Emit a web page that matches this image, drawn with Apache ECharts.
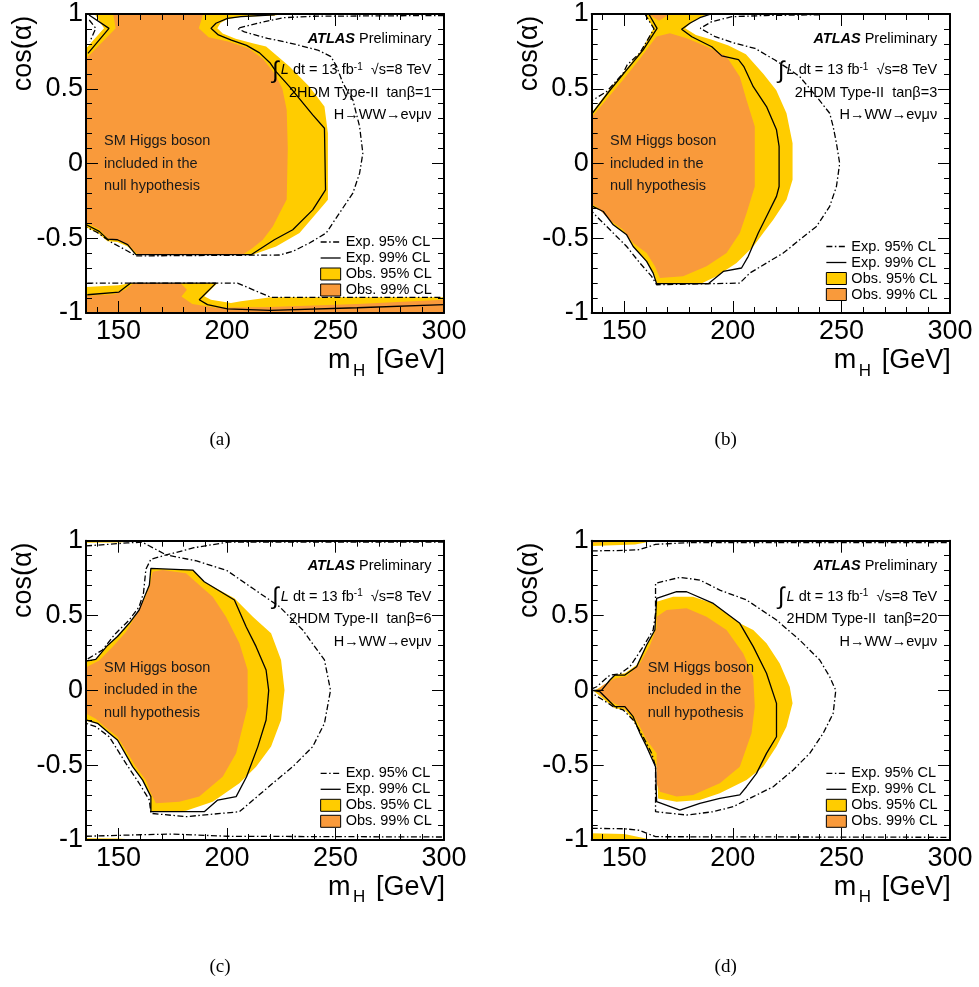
<!DOCTYPE html>
<html>
<head>
<meta charset="utf-8">
<script src="https://cdn.jsdelivr.net/npm/echarts@6/dist/echarts.min.js"></script>
<style>
  html, body { margin: 0; padding: 0; background: #fff; }
  #chart { width: 979px; height: 987px; }
</style>
</head>
<body>
<div id="chart"></div>
<script>
// tick labels
var X_MAJOR = [150, 200, 250, 300];
var X_MINOR = [140, 150, 160, 170, 180, 190, 200, 210, 220, 230, 240, 250, 260, 270, 280, 290, 300];
var TANB = ['1', '3', '6', '20'];
var CAPTIONS = ['(a)', '(b)', '(c)', '(d)'];

// ---- panel (a): tanb = 1 ----
var OBS95_A = [
  [[135,0.77],[143.3,0.904],[139,1],[226,1],[222,0.99],[206,0.98],[200,0.965],[197,0.94],[195.5,0.904],[198,0.87],[204,0.835],[211.8,0.804],[218,0.782],[223,0.72],[228.8,0.648],[238,0.514],[244.9,0.381],[246.5,0.203],[246.5,-0.243],[242.6,-0.31],[233.4,-0.465],[222.6,-0.555],[211.8,-0.61],[158,-0.61],[154.2,-0.555],[149.5,-0.525],[144.9,-0.52],[141,-0.47],[135,-0.425]],
  [[135,-0.826],[150,-0.815],[156,-0.80],[195.6,-0.80],[189.5,-0.888],[192.6,-0.911],[201.8,-0.933],[206.4,-0.922],[220.2,-0.895],[300,-0.895],[300,-1],[135,-1]]
];
var OBS99_A = [
  [[135,0.70],[148.7,0.904],[147.5,1],[189,1],[187,0.904],[191.5,0.845],[201,0.815],[210,0.77],[216.5,0.70],[222,0.60],[225.5,0.50],[227.5,0.36],[228,0.1],[227.5,-0.24],[224.2,-0.332],[221.1,-0.421],[216.5,-0.51],[211.8,-0.566],[207.2,-0.61],[159,-0.61],[155,-0.55],[150,-0.515],[145,-0.50],[141,-0.44],[135,-0.395]],
  [[135,-0.885],[148,-0.875],[153,-0.845],[157,-0.80],[178.5,-0.80],[181.5,-0.845],[179,-0.89],[184,-0.94],[195,-0.965],[220,-0.96],[260,-0.94],[300,-0.912],[300,-1],[135,-1]]
];
var EXP99_A = [
  [[136.4,0.993],[145.6,0.904],[135.9,0.737]],
  [[222,0.995],[206.4,0.982],[200.2,0.971],[194.9,0.938],[192.6,0.904],[196,0.86],[202,0.825],[209,0.79],[215,0.74],[220,0.67],[222.6,0.615],[228.8,0.514],[239.5,0.325],[244.9,0.236],[245.4,-0.176],[239.5,-0.31],[230.3,-0.443],[221.8,-0.51],[211.1,-0.61],[158,-0.61],[154.2,-0.543],[149.5,-0.51],[144.9,-0.506],[141.1,-0.454],[135.2,-0.41]],
  [[135.6,-0.878],[150.2,-0.86],[155.6,-0.80],[194.9,-0.80],[187.2,-0.911],[191,-0.944],[200.2,-0.973],[220,-0.982],[260,-0.965],[300,-0.944]]
];
var EXP95_A = [
  [[136.5,0.96],[139.5,0.904],[136.8,0.815]],
  [[300,0.99],[240,0.985],[226,0.975],[214,0.938],[204.8,0.904],[208,0.88],[218.7,0.837],[229.5,0.804],[241.8,0.759],[247.9,0.715],[250.5,0.65],[253.4,0.537],[258,0.425],[261.1,0.247],[262.6,0.069],[261.1,-0.065],[258,-0.198],[251.8,-0.332],[245.7,-0.465],[238,-0.532],[230.3,-0.588],[224.2,-0.612],[158,-0.618],[153.5,-0.58],[147,-0.53],[140,-0.46],[135,-0.425]],
  [[135.6,-0.80],[204.8,-0.80],[220.2,-0.895],[300,-0.895]]
];

// ---- panel (b): tanb = 3 ----
var OBS95_B = [
  [[159.5,1],[190,1],[186,0.985],[181.5,0.95],[178,0.904],[183,0.86],[190,0.83],[198,0.79],[206,0.73],[214,0.6],[220,0.49],[224.7,0.336],[227.5,0.136],[227.5,-0.109],[224.7,-0.243],[218.6,-0.376],[214,-0.465],[209.4,-0.555],[201.7,-0.666],[192.5,-0.755],[186,-0.80],[164.9,-0.80],[163.3,-0.73],[160.3,-0.655],[154.1,-0.555],[151.1,-0.477],[144.9,-0.41],[140.3,-0.321],[135,-0.29],[135,0.34],[142.8,0.49],[150.5,0.626],[158,0.76],[163.5,0.904]]
];
var OBS99_B = [
  [[164.9,0.849],[171,0.871],[178.7,0.837],[187.9,0.782],[197.1,0.715],[203.2,0.581],[206.3,0.425],[210.1,0.247],[210.1,-0.154],[206.3,-0.332],[203.2,-0.465],[197.1,-0.599],[187.9,-0.688],[177.1,-0.755],[166.4,-0.766],[164.1,-0.688],[160.3,-0.599],[154.1,-0.532],[149.5,-0.443],[143.4,-0.38],[137.3,-0.29],[135,-0.27],[135,0.31],[141.9,0.43],[149.5,0.56],[157.2,0.70],[163.3,0.82]],
  [[161,1],[171,1],[166,0.955]]
];
var EXP99_B = [
  [[161.3,1],[165.1,0.904],[158.7,0.76],[151.1,0.626],[143.4,0.49],[135,0.33]],
  [[190,1],[187.3,0.987],[184.8,0.975],[180.2,0.938],[176.4,0.898],[181.1,0.848],[190.3,0.781],[194.9,0.72],[202.6,0.695],[205,0.65],[209.4,0.514],[215.5,0.381],[220.1,0.225],[221.3,0.114],[221.3,-0.154],[220.1,-0.22],[215.5,-0.354],[211.7,-0.465],[207.1,-0.621],[204,-0.699],[195.6,-0.722],[188.7,-0.804],[164.9,-0.804],[163.3,-0.733],[160.3,-0.655],[154.1,-0.555],[151.1,-0.477],[144.9,-0.41],[140.3,-0.321],[135.5,-0.287]]
];
var EXP95_B = [
  [[159.5,1],[163.7,0.9],[157.2,0.74],[151.3,0.659],[149.5,0.604],[141.9,0.481],[135,0.42]],
  [[240,0.995],[215,0.99],[199.5,0.982],[190.3,0.949],[185,0.904],[191.9,0.848],[201.1,0.804],[210.2,0.77],[219.4,0.692],[226,0.63],[230.8,0.581],[238.5,0.448],[244.6,0.336],[246.2,0.247],[247.7,0.136],[249.2,0.0],[247.7,-0.154],[244.6,-0.287],[238.5,-0.421],[230.8,-0.51],[223.2,-0.599],[215.5,-0.666],[207.8,-0.733],[203.2,-0.80],[164.9,-0.811],[162.6,-0.755],[157.2,-0.666],[151.1,-0.555],[144.9,-0.465],[138.8,-0.376],[135,-0.32]]
];

// ---- panel (c): tanb = 6 ----
var OBS95_C = [
  [[164.9,0.815],[184.2,0.804],[189.5,0.726],[203.4,0.615],[212,0.49],[220.3,0.381],[224.9,0.203],[226.5,0.0],[224.9,-0.198],[220.3,-0.376],[213.4,-0.51],[205.7,-0.621],[193.4,-0.744],[181.1,-0.804],[175,-0.811],[164.9,-0.811],[164.9,-0.71],[161.1,-0.6],[156.5,-0.51],[149.5,-0.332],[145.7,-0.287],[140.3,-0.22],[135,-0.205],[135,0.2],[139.5,0.207],[144.9,0.30],[149.5,0.36],[154.9,0.448],[159.5,0.537],[162.6,0.648],[164.2,0.704]],
  [[135,1],[161,1],[150,0.988],[135,0.986]],
  [[135,-1],[160,-1],[150,-0.99],[135,-0.988]]
];
var OBS99_C = [
  [[165.7,0.793],[170.3,0.804],[181.1,0.782],[187.2,0.704],[193.4,0.626],[199.5,0.492],[205.7,0.314],[209.5,0.136],[209.5,-0.109],[207.2,-0.243],[204.2,-0.421],[198,-0.577],[187.2,-0.71],[178,-0.744],[167.2,-0.755],[164.9,-0.688],[162.6,-0.6],[158,-0.51],[153.4,-0.40],[149.5,-0.31],[144.2,-0.25],[139.5,-0.19],[135,-0.155],[135,0.155],[141.1,0.2],[147.2,0.29],[153.4,0.39],[158,0.5],[162,0.61],[164.2,0.69]]
];
var EXP99_C = [
  [[135,-0.198],[140.3,-0.22],[145.7,-0.287],[149.5,-0.332],[156.5,-0.51],[161.1,-0.6],[164.9,-0.71],[164.9,-0.811],[189.5,-0.811],[195.7,-0.733],[204.2,-0.71],[209,-0.577],[214.2,-0.376],[218,-0.198],[219.2,0.0],[218,0.136],[213.4,0.292],[208.8,0.425],[203.4,0.604],[189.5,0.726],[184.2,0.804],[164.9,0.815],[164.2,0.704],[162.6,0.648],[159.5,0.537],[154.9,0.448],[149.5,0.36],[144.9,0.30],[139.5,0.207],[135,0.195]]
];
var EXP95_C = [
  [[135,0.965],[154,0.985],[161,0.99],[172,0.905],[186,0.865],[200,0.80],[212,0.68],[224.2,0.559],[234.9,0.403],[244.9,0.203],[247.7,0.0],[244.9,-0.22],[239.5,-0.376],[230.3,-0.51],[221.1,-0.621],[205.7,-0.811],[181.1,-0.844],[164.9,-0.822],[164.2,-0.733],[159.5,-0.621],[153.4,-0.488],[145.7,-0.31],[139.5,-0.243],[135,-0.22]],
  [[300,0.99],[200.2,0.99],[184.8,0.953],[172,0.905],[164.9,0.876],[162.6,0.809],[161.5,0.65],[159.5,0.559],[154.9,0.47],[148,0.37],[142.6,0.27],[135,0.203]],
  [[135,-0.975],[160,-0.965],[175,-0.96],[200,-0.975],[300,-0.98]]
];

// ---- panel (d): tanb = 20 ----
var OBS95_D = [
  [[164.9,0.592],[172.5,0.626],[181.7,0.626],[191,0.58],[203.2,0.448],[209.4,0.403],[215.5,0.314],[221.6,0.18],[226.2,0.024],[227.5,-0.087],[224.7,-0.243],[220.1,-0.376],[214,-0.51],[206.3,-0.599],[194,-0.688],[184.8,-0.733],[174.1,-0.744],[165.6,-0.722],[164.9,-0.51],[161,-0.39],[157.2,-0.287],[154.1,-0.198],[150.3,-0.131],[145.7,-0.12],[141.9,-0.076],[136,-0.005],[141.9,0.048],[145.7,0.102],[150.3,0.114],[155.7,0.17],[160.3,0.303],[164.1,0.403]],
  [[135,1],[164,1],[155,0.975],[135,0.965]],
  [[135,-0.955],[150,-0.96],[163.3,-1],[135,-1]]
];
var OBS99_D = [
  [[164.9,0.492],[169.5,0.537],[178.7,0.548],[187.9,0.492],[197.1,0.403],[204.8,0.247],[209.4,0.091],[210.1,-0.109],[208.6,-0.287],[203.2,-0.51],[194,-0.621],[181.7,-0.699],[174.1,-0.71],[166.4,-0.677],[164.9,-0.621],[164.9,-0.421],[160.3,-0.332],[157.2,-0.243],[154.1,-0.165],[149.5,-0.115],[145.7,-0.09],[140.3,-0.045],[137,-0.005],[140.3,0.035],[145.7,0.08],[151.1,0.095],[157.2,0.18],[161.8,0.30],[164.9,0.42]],
  [[135,1],[150,1],[135,0.985]]
];
var EXP99_D = [
  [[135,0],[139.6,0.002],[143.4,0.069],[145.7,0.102],[150.3,0.102],[155.7,0.158],[160.3,0.303],[164.1,0.403],[164.9,0.615],[174.1,0.659],[178.7,0.659],[191,0.581],[203.2,0.448],[209.4,0.292],[215.5,0.114],[220.1,-0.087],[220.1,-0.31],[215.5,-0.421],[210.9,-0.555],[206.3,-0.644],[203.2,-0.699],[194,-0.722],[184.8,-0.755],[175.6,-0.8],[164.9,-0.744],[164.4,-0.51],[160.3,-0.376],[157.2,-0.287],[154.1,-0.176],[150.3,-0.109],[145.7,-0.109],[143.4,-0.076],[138.8,-0.009],[135,0]]
];
var EXP95_D = [
  [[135,0.01],[137.3,0.024],[143.4,0.102],[148,0.11],[152.6,0.158],[158.7,0.292],[163.3,0.403],[164.4,0.514],[164.4,0.715],[175.6,0.755],[184.8,0.737],[194,0.67],[206.3,0.604],[220.1,0.47],[230.8,0.336],[240,0.203],[244.6,0.091],[247.4,0.0],[246.2,-0.154],[241.6,-0.287],[235.4,-0.421],[227.8,-0.532],[218.6,-0.644],[209.4,-0.71],[200.2,-0.777],[191,-0.811],[178.7,-0.833],[164.4,-0.811],[164.4,-0.51],[162.6,-0.42],[158.7,-0.31],[154.1,-0.198],[149.5,-0.131],[144.9,-0.109],[140.3,-0.065],[136.5,-0.031],[135,-0.01]],
  [[135,0.932],[150,0.935],[157,0.94],[164.4,0.976],[180,0.987],[300,0.987]],
  [[135,-0.922],[150,-0.925],[157,-0.935],[164.4,-0.978],[300,-0.982]]
];

var PANELS = [
  { obs95: OBS95_A, obs99: OBS99_A, exp99: EXP99_A, exp95: EXP95_A },
  { obs95: OBS95_B, obs99: OBS99_B, exp99: EXP99_B, exp95: EXP95_B },
  { obs95: OBS95_C, obs99: OBS99_C, exp99: EXP99_C, exp95: EXP95_C },
  { obs95: OBS95_D, obs99: OBS99_D, exp99: EXP99_D, exp95: EXP95_D }
];

var FONT = '"Liberation Sans", Arial, Helvetica, sans-serif';
var YEL = '#FFCC00';
var ORA = '#F99A3B';
var DASHDOT = [6, 2.5, 1.5, 2.5];

// layout of the four pads
var GRIDS = [
  { left: 86, top: 14, width: 358, height: 299 },
  { left: 591.7, top: 14, width: 358.3, height: 299 },
  { left: 86, top: 540.7, width: 358, height: 299.3 },
  { left: 591.7, top: 540.7, width: 358.3, height: 299.3 }
];
var SM_X = [18, 18.3, 18, 56];     // "SM Higgs boson" offset from pad left
var LEG_TOP = [234.5, 239, 765.8, 765.8];

function xAx(g, pos, major) {
  return {
    gridIndex: g, type: 'value', min: 135, max: 300, position: pos, z: 10,
    axisLine: { show: major, onZero: false, lineStyle: { color: '#000', width: 2 } },
    splitLine: { show: false },
    axisTick: { show: true, inside: true, length: major ? 12 : 6, customValues: major ? X_MAJOR : X_MINOR,
                lineStyle: { color: '#000', width: 1 } },
    axisLabel: { show: major && pos === 'bottom', customValues: X_MAJOR, margin: 5,
                 fontSize: 27, color: '#000', fontFamily: FONT }
  };
}
function yAx(g, pos) {
  return {
    gridIndex: g, type: 'value', min: -1, max: 1, interval: 0.5, position: pos, z: 10,
    axisLine: { show: true, onZero: false, lineStyle: { color: '#000', width: 2 } },
    splitLine: { show: false },
    axisTick: { inside: true, length: 12, lineStyle: { color: '#000', width: 1 } },
    minorTick: { show: true, splitNumber: 5, length: 6, lineStyle: { color: '#000', width: 1 } },
    axisLabel: { show: pos === 'left', margin: 3, fontSize: 27, color: '#000', fontFamily: FONT }
  };
}

function polySeries(name, polys, color, g) {
  return {
    type: 'custom', name: name, xAxisIndex: 4 * g, yAxisIndex: 2 * g,
    clip: true, silent: true, z: 2,
    itemStyle: { color: color },
    data: polys.map(function (p) { return p[0]; }),
    renderItem: function (params, api) {
      var pts = polys[params.dataIndex].map(function (pt) { return api.coord(pt); });
      return { type: 'polygon', shape: { points: pts }, style: { fill: color } };
    }
  };
}
function lineSeries(name, pts, dash, g) {
  return {
    type: 'line', name: name, xAxisIndex: 4 * g, yAxisIndex: 2 * g,
    data: pts, showSymbol: false, symbol: 'none', silent: true, z: 3,
    itemStyle: { color: '#000' },
    lineStyle: { color: '#000', width: 1.3, type: dash }
  };
}

var xAxes = [], yAxes = [], series = [], legends = [], texts = [];
GRIDS.forEach(function (gr, g) {
  xAxes.push(xAx(g, 'bottom', true), xAx(g, 'bottom', false), xAx(g, 'top', true), xAx(g, 'top', false));
  yAxes.push(yAx(g, 'left'), yAx(g, 'right'));

  var p = PANELS[g];
  series.push(polySeries('Obs. 95% CL', p.obs95, YEL, g));
  series.push(polySeries('Obs. 99% CL', p.obs99, ORA, g));
  p.exp99.forEach(function (pts) { series.push(lineSeries('Exp. 99% CL', pts, 'solid', g)); });
  p.exp95.forEach(function (pts) { series.push(lineSeries('Exp. 95% CL', pts, DASHDOT, g)); });

  legends.push({
    left: gr.left + 234, top: LEG_TOP[g], orient: 'vertical', padding: 0,
    itemWidth: 20, itemHeight: 12, itemGap: 1, selectedMode: false,
    textStyle: { fontSize: 14.5, color: '#000', fontFamily: FONT },
    data: [
      { name: 'Exp. 95% CL', itemStyle: { opacity: 0 }, lineStyle: { color: '#000', width: 1.3, type: DASHDOT } },
      { name: 'Exp. 99% CL', itemStyle: { opacity: 0 }, lineStyle: { color: '#000', width: 1.3, type: 'solid' } },
      { name: 'Obs. 95% CL', icon: 'rect', itemStyle: { color: YEL, borderColor: '#000', borderWidth: 1 } },
      { name: 'Obs. 99% CL', icon: 'rect', itemStyle: { color: ORA, borderColor: '#000', borderWidth: 1 } }
    ]
  });

  var L = gr.left, T = gr.top, R = gr.left + 345.5;
  var f = '14.5px ' + FONT;
  texts.push(
    { type: 'text', x: R, y: T + 25.3, z: 20, style: { text: '{b|ATLAS} Preliminary', font: f, fill: '#000',
      textAlign: 'right', textVerticalAlign: 'middle',
      rich: { b: { font: 'italic bold 14.5px ' + FONT, fill: '#000' } } } },
    { type: 'text', x: R - 156, y: T + 57, z: 20, style: { text: '\u222B', font: '24px ' + FONT, fill: '#000',
      textAlign: 'center', textVerticalAlign: 'middle' } },
    { type: 'text', x: R, y: T + 56, z: 20, style: { text: '{i|L} dt = 13 fb{s|-1}  \u221As=8 TeV', font: f, fill: '#000',
      textAlign: 'right', textVerticalAlign: 'middle', lineHeight: 16,
      rich: { i: { font: 'italic 14.5px ' + FONT, fill: '#000' },
              s: { font: '10px ' + FONT, fill: '#000', verticalAlign: 'top', lineHeight: 10 } } } },
    { type: 'text', x: R, y: T + 78.7, z: 20, style: { text: '2HDM Type-II  tan\u03B2=' + TANB[g], font: f, fill: '#000',
      textAlign: 'right', textVerticalAlign: 'middle' } },
    { type: 'text', x: R, y: T + 101, z: 20, style: { text: 'H\u2192WW\u2192e\u03BD\u03BC\u03BD', font: f, fill: '#000',
      textAlign: 'right', textVerticalAlign: 'middle' } },
    { type: 'text', x: L + SM_X[g], y: T + 127.3, z: 20, style: { text: 'SM Higgs boson', font: f, fill: '#1a1a1a',
      textAlign: 'left', textVerticalAlign: 'middle' } },
    { type: 'text', x: L + SM_X[g], y: T + 149.6, z: 20, style: { text: 'included in the', font: f, fill: '#1a1a1a',
      textAlign: 'left', textVerticalAlign: 'middle' } },
    { type: 'text', x: L + SM_X[g], y: T + 172.3, z: 20, style: { text: 'null hypothesis', font: f, fill: '#1a1a1a',
      textAlign: 'left', textVerticalAlign: 'middle' } },
    // axis titles
    { type: 'text', x: L - 62, y: T + 39.5, rotation: Math.PI / 2, z: 20, style: { text: 'cos(\u03B1)',
      font: '27px ' + FONT, fill: '#000', textAlign: 'center', textVerticalAlign: 'middle' } },
    { type: 'text', x: L + 242, y: T + 347, z: 20, style: { text: 'm', font: '27px ' + FONT, fill: '#000',
      textAlign: 'left', textVerticalAlign: 'middle' } },
    { type: 'text', x: L + 267, y: T + 357, z: 20, style: { text: 'H', font: '17px ' + FONT, fill: '#000',
      textAlign: 'left', textVerticalAlign: 'middle' } },
    { type: 'text', x: L + 359, y: T + 347, z: 20, style: { text: '[GeV]', font: '27px ' + FONT, fill: '#000',
      textAlign: 'right', textVerticalAlign: 'middle' } },
    // caption
    { type: 'text', x: L + 134, y: T + 426, z: 20, style: { text: CAPTIONS[g],
      font: '19px "Liberation Serif", "Times New Roman", serif', fill: '#000',
      textAlign: 'center', textVerticalAlign: 'middle' } }
  );
});

var chart = echarts.init(document.getElementById('chart'), null, { renderer: 'canvas' });
chart.setOption({
  animation: false,
  backgroundColor: '#fff',
  textStyle: { fontFamily: FONT },
  grid: GRIDS.map(function (g) {
    return { left: g.left, top: g.top, width: g.width, height: g.height, containLabel: false };
  }),
  xAxis: xAxes,
  yAxis: yAxes,
  legend: legends,
  series: series,
  graphic: { elements: texts }
});
</script>
</body>
</html>
